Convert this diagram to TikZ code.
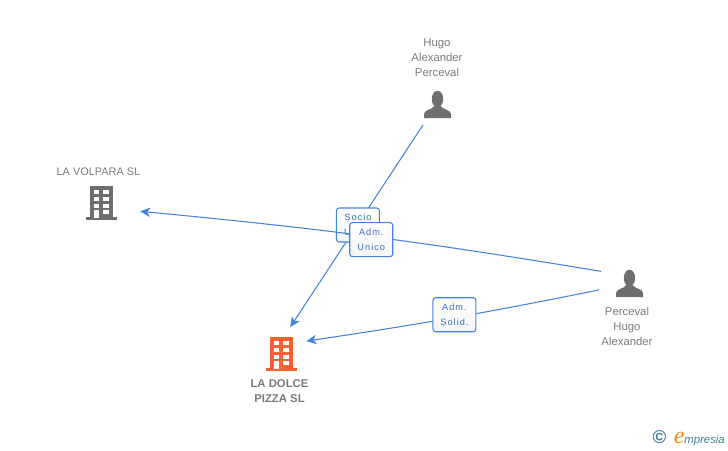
\documentclass[tikz,border=0pt]{standalone}
\usepackage{fontspec}
\setmainfont{Liberation Sans}
\newfontfamily\tagfont[LetterSpace=11]{Liberation Sans}
\newfontfamily\logofont{Liberation Serif}
\usetikzlibrary{arrows.meta}
\definecolor{linkblue}{HTML}{4482E0}
\definecolor{icongray}{HTML}{6E6E6E}
\definecolor{textgray}{HTML}{7A7A7A}
\definecolor{iconorange}{HTML}{FF5F33}
\definecolor{logoteal}{HTML}{3C7F94}
\definecolor{logoorange}{HTML}{F58A1F}
\tikzset{
  link/.style={draw=linkblue,line width=0.8pt,-{Stealth[length=7.5pt,width=7pt,inset=2.2pt]}},
  linktag/.style={rectangle,draw=linkblue,line width=0.8pt,rounded corners=2pt,top color=white,bottom color=white!96!black,
    minimum width=32.25pt,minimum height=25.5pt,inner sep=0pt,align=center,text=linkblue!85!black,
    font=\tagfont\fontsize{6.9}{11.25}\selectfont},
  iconspot/.style={circle,minimum size=#1*0.75pt,inner sep=0pt,outer sep=0pt},
  caption/.style={align=center,text=textgray,font=\fontsize{8.5}{11.25}\selectfont},
  building/.pic={
    \fill[#1] (-11,-17) rectangle (11.5,14);
    \fill[#1] (-15.5,14) rectangle (16,17);
    \foreach \wy in {-13,-6,1}{
      \fill[white] (-7.5,\wy) rectangle ++(5,4);
      \fill[white] (2,\wy) rectangle ++(5.5,4);
    }
    \fill[white] (-7.5,7) rectangle (-2.5,15);
    \fill[white] (2,7) rectangle (7.5,11);
  },
  person/.pic={
    \fill[#1] (0,-6) ellipse [x radius=5.7,y radius=8.2];
    \fill[#1] (-13.5,13) -- (-13.5,9) .. controls (-13.5,5) and (-6,5) .. (-3,1)
      -- (3,1) .. controls (6,5) and (13.5,5) .. (13.5,9) -- (13.5,13) -- cycle;
  }
}
\begin{document}
\begin{tikzpicture}[x=0.75pt,y=-0.75pt]
  \useasboundingbox (0,0) rectangle (728,450);

  % Define nodes
  \node (hugo) [iconspot=49.4] at (437.5,105) {};
  \node (perceval) [iconspot=62] at (629.5,284) {};
  \node (volpara) [iconspot=80] at (101,203) {};
  \node (dolce) [iconspot=57] at (281,354) {};
  \pic at (hugo) {person=icongray};
  \pic at (perceval) {person=icongray};
  \pic at (volpara) {building=icongray};
  \pic at (dolce) {building=iconorange};

  \node (hugotext) [caption] at (437,58) {Hugo\\Alexander\\Perceval};
  \node (percevaltext) [caption] at (627,326) {Perceval\\Hugo\\Alexander};
  \node (volparatext) [caption,font=\fontsize{8.2}{11.25}\selectfont] at (98.5,171.5) {LA VOLPARA SL};
  \node (dolcetext) [caption,font=\bfseries\fontsize{8.5}{11.25}\selectfont] at (279.5,391.5) {LA DOLCE\\PIZZA SL};

  % Draw edges
  \draw [link] (hugo.-126) -- node[pos=.49,linktag,yshift=-0.75pt] (socio) {Socio\\Unico} (dolce.71);
  \draw [link] (perceval.156) to[bend right=2] node[pos=.5,linktag,yshift=-2.25pt] (admunico) {Adm.\\Unico} (volpara.-12);
  \draw [link] (perceval.-169) to[bend left=1.5] node[pos=.5,linktag,xshift=1pt,yshift=2.25pt] (admsolid) {Adm.\\Solid.} (dolce.27);

  % Logo
  \node (logo) [anchor=east,inner sep=0pt,text=logoteal,font=\fontsize{8.5}{10}\selectfont\itshape] at (725,438)
    {{\upshape\bfseries\fontsize{14}{14}\selectfont ©}\hspace{5.5pt}{\logofont\color{logoorange}\fontsize{18}{15}\selectfont e}mpresia};
\end{tikzpicture}
\end{document}
